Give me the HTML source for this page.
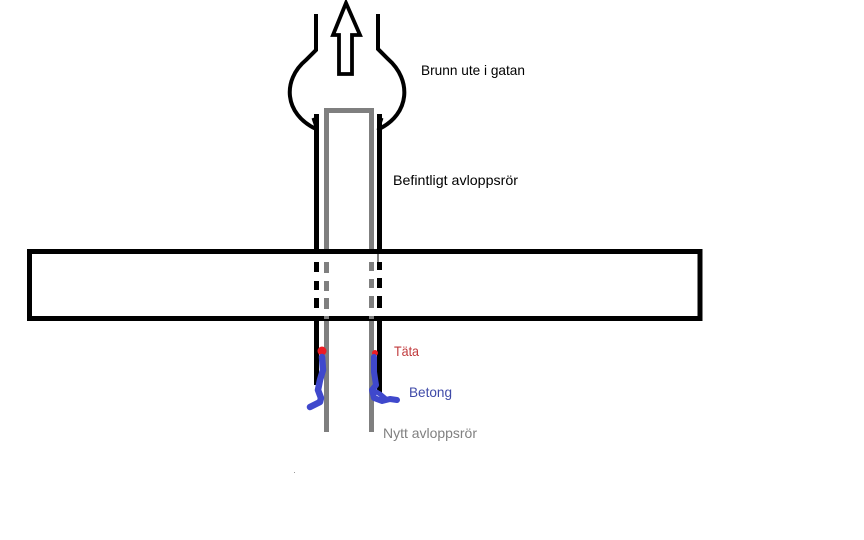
<!DOCTYPE html>
<html>
<head>
<meta charset="utf-8">
<style>
html,body{margin:0;padding:0;background:#fff;}
svg{display:block;}
text{font-family:"Liberation Sans",sans-serif;}
</style>
</head>
<body>
<svg width="864" height="540" viewBox="0 0 864 540" xmlns="http://www.w3.org/2000/svg">
<rect width="864" height="540" fill="#fff"/>

<!-- Arrow -->
<polygon points="346,3 333,35 339,35 339,74 352,74 352,35 360,35" fill="none" stroke="#000" stroke-width="3.8" stroke-linejoin="miter"/>

<!-- Well (brunn) left -->
<path d="M316,14 L316,50 L306,60 C282,80 284,114 316,129" fill="none" stroke="#000" stroke-width="4"/>
<path d="M313,118 L317,130" fill="none" stroke="#000" stroke-width="3"/>
<!-- Well right -->
<path d="M378,14 L378,49 L388,59 C412,80 410,114 379,129" fill="none" stroke="#000" stroke-width="4"/>
<path d="M382,118 L378,130" fill="none" stroke="#000" stroke-width="3"/>

<!-- Existing pipe black lines above box -->
<line x1="316.5" y1="114" x2="316.5" y2="252" stroke="#000" stroke-width="5"/>
<line x1="379.5" y1="114" x2="379.5" y2="252" stroke="#000" stroke-width="5"/>

<!-- Gray new pipe -->
<path d="M326.5,432 L326.5,110.5 L371.5,110.5 L371.5,432" fill="none" stroke="#7f7f7f" stroke-width="5"/>

<!-- Box -->
<rect x="29.5" y="251.5" width="670.5" height="67" fill="#fff" stroke="#000" stroke-width="5"/>

<!-- Dashes inside box -->
<g fill="#000">
<rect x="314" y="262" width="5" height="10"/>
<rect x="314" y="281" width="5" height="9"/>
<rect x="314" y="298" width="5" height="10"/>
<rect x="377" y="262" width="5" height="8"/>
<rect x="377" y="278" width="5" height="10"/>
<rect x="377" y="296" width="5" height="12"/>
<rect x="377.5" y="252" width="1" height="10"/>
</g>
<g fill="#7f7f7f">
<rect x="324" y="262" width="5" height="11"/>
<rect x="324" y="281" width="5" height="10"/>
<rect x="324" y="298" width="5" height="11"/>
<rect x="369" y="262" width="5" height="9"/>
<rect x="369" y="279" width="5" height="9"/>
<rect x="369" y="296" width="5" height="12"/>
</g>

<!-- Below box -->
<line x1="316.5" y1="319" x2="316.5" y2="385" stroke="#000" stroke-width="5"/>
<line x1="379.5" y1="319" x2="379.5" y2="393" stroke="#000" stroke-width="5"/>
<rect x="324" y="316" width="5" height="3" fill="#7f7f7f"/>
<rect x="369" y="316" width="5" height="3" fill="#7f7f7f"/>

<!-- Red seals -->
<circle cx="322" cy="351" r="4.5" fill="#ed1c24"/>
<circle cx="375" cy="353" r="3" fill="#ed1c24"/>

<!-- Blue concrete -->
<path d="M322,357 L323,370 L320,380 L318,390 L321,398 L320,402 L310,407" fill="none" stroke="#3f48cc" stroke-width="6.5" stroke-linecap="round" stroke-linejoin="round"/>
<path d="M374,357 L374,372 L376,385 L372,390 L374,398 L382,401 L390,399 L397,400" fill="none" stroke="#3f48cc" stroke-width="6" stroke-linecap="round" stroke-linejoin="round"/>
<path d="M373,390 L380,394 L386,399" fill="none" stroke="#3f48cc" stroke-width="5" stroke-linecap="round"/>

<!-- Labels -->
<text x="421" y="75" font-size="14" fill="#000" textLength="104" lengthAdjust="spacingAndGlyphs">Brunn ute i gatan</text>
<text x="393" y="185" font-size="14" fill="#000" textLength="125" lengthAdjust="spacingAndGlyphs">Befintligt avloppsrör</text>
<text x="394" y="356" font-size="14" fill="#c0393b" textLength="25" lengthAdjust="spacingAndGlyphs">Täta</text>
<text x="409" y="397" font-size="14" fill="#3f4aa8" textLength="43" lengthAdjust="spacingAndGlyphs">Betong</text>
<text x="383" y="438" font-size="14" fill="#808080" textLength="94" lengthAdjust="spacingAndGlyphs">Nytt avloppsrör</text>

<rect x="294" y="472" width="1" height="1" fill="#999"/>
</svg>
</body>
</html>
